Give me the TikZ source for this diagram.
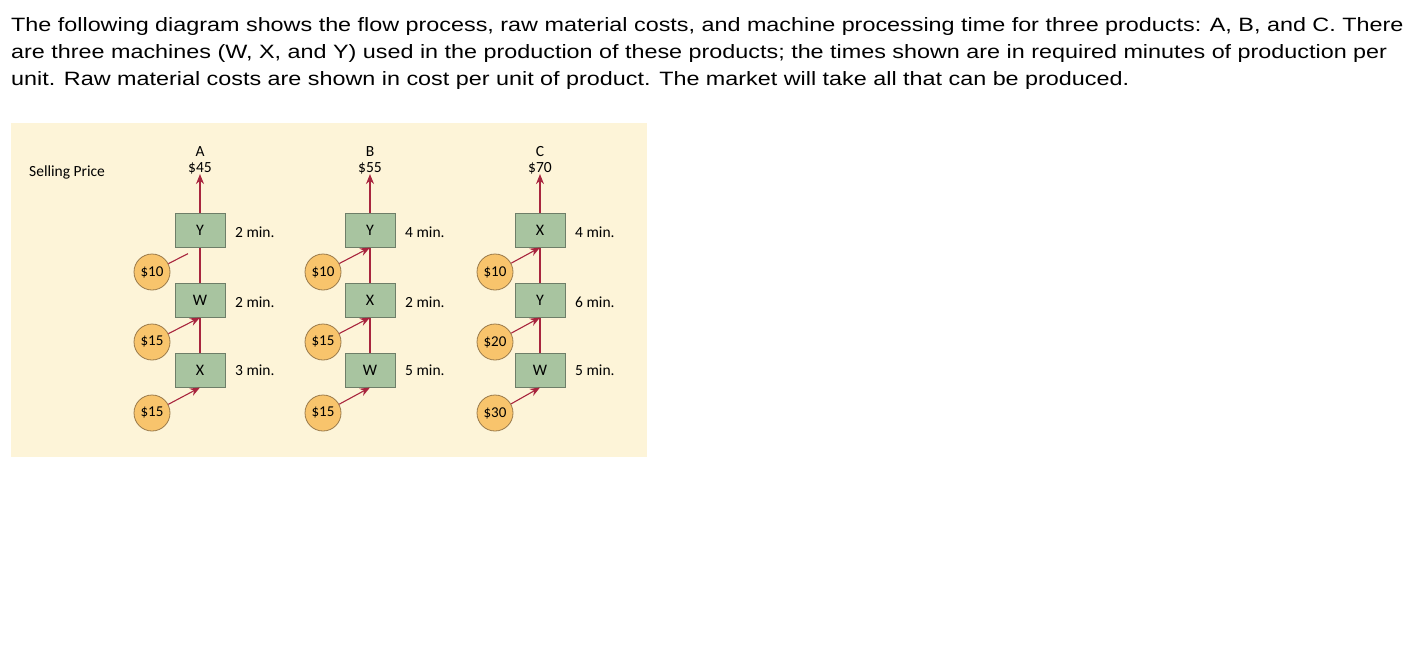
\documentclass[tikz,border=0pt]{standalone}
\usepackage{fontspec}
\setmainfont{Liberation Sans}
\newfontfamily\hdr[FakeStretch=1.21]{Liberation Sans}
\newfontfamily\diag{Carlito}
\usetikzlibrary{arrows.meta,calc}
\definecolor{bg}{HTML}{FDF4D8}
\definecolor{boxg}{HTML}{A8C4A0}
\definecolor{boxb}{HTML}{6E7E68}
\definecolor{coin}{HTML}{F8C46C}
\definecolor{coinb}{HTML}{9A7A4A}
\definecolor{arr}{HTML}{A8253E}
\tikzset{
 x=1pt,y=-1pt,
 mach/.style={draw=boxb,fill=boxg,line width=1pt,minimum width=50pt,minimum height=34pt,inner sep=0pt,font=\diag\fontsize{16}{16}\selectfont},
 cost/.style={circle,draw=coinb,fill=coin,line width=0.8pt,minimum size=36pt,inner sep=0pt,font=\diag\fontsize{15}{15}\selectfont},
 lab/.style={font=\diag\fontsize{15.5}{16}\selectfont,inner sep=0pt},
 tm/.style={lab,anchor=west},
 flow/.style={draw=arr,line width=1.1pt},
 flowa/.style={flow,-{Stealth[length=10pt,width=8pt]}},
 txt/.style={anchor=west,inner sep=0pt,font=\hdr\fontsize{19.3}{27}\selectfont}
}
\begin{document}
\begin{tikzpicture}
\useasboundingbox (0,0) rectangle (1421,648);
\fill[white] (0,0) rectangle (1421,648);
\node[txt] (t1) at (11,27) {The following diagram shows the flow process, raw material costs, and machine processing time for three products: A, B, and C. There};
\node[txt] (t2) at (11,54) {are three machines (W, X, and Y) used in the production of these products; the times shown are in required minutes of production per};
\node[txt] (t3) at (11,81) {unit. Raw material costs are shown in cost per unit of product. The market will take all that can be produced.};
\fill[bg] (11,123) rectangle (647,457);
\node[lab,anchor=west] (sp) at (29,172) {Selling Price};
\foreach \n/\cx/\ccx/\p/\top/\mid/\bot/\ta/\tb/\tc/\ca/\cb/\cc in {
 A/200/152/\$45/Y/W/X/2 min./2 min./3 min./\$10/\$15/\$15,
 B/370/323/\$55/Y/X/W/4 min./2 min./5 min./\$10/\$15/\$15,
 C/540/495/\$70/X/Y/W/4 min./6 min./5 min./\$10/\$20/\$30}{
 \node[lab,align=center] (p\n) at (\cx,160) {\n\\\p};
 \node[mach] (m1\n) at (\cx,230) {\top};
 \node[mach] (m2\n) at (\cx,300) {\mid};
 \node[mach] (m3\n) at (\cx,370) {\bot};
 \node[tm] (t1\n) at (\cx+35,232) {\ta};
 \node[tm] (t2\n) at (\cx+35,302) {\tb};
 \node[tm] (t3\n) at (\cx+35,370) {\tc};
 \node[cost] (c1\n) at (\ccx,272) {\ca};
 \node[cost] (c2\n) at (\ccx,342) {\cb};
 \node[cost] (c3\n) at (\ccx,413) {\cc};
 \draw[flowa] (m1\n.north) -- (p\n.south);
 \draw[flow] (m3\n.north) -- (m2\n.south);
 \draw[flow] (m2\n.north) -- (m1\n.south);
 \draw[flowa] (c2\n) -- (m2\n.south);
 \draw[flowa] (c3\n) -- (m3\n.south);
}
\coordinate (endA) at ($(c1A)!0.75!(m1A.south)$);
\draw[flow] (c1A) -- (endA);
\draw[flowa] (c1B) -- (m1B.south);
\draw[flowa] (c1C) -- (m1C.south);
\end{tikzpicture}
\end{document}
